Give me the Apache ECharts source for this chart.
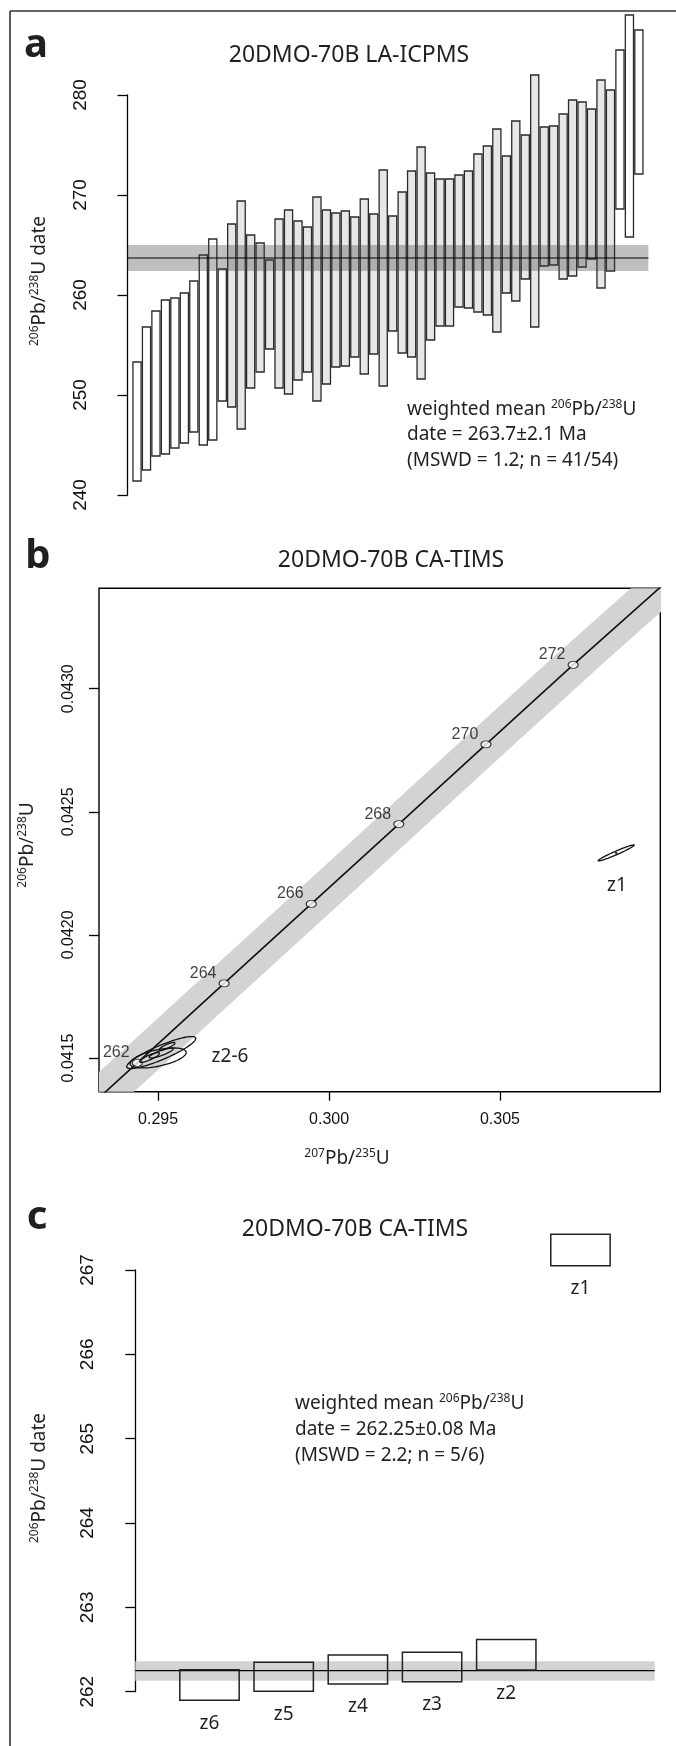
<!DOCTYPE html>
<html><head><meta charset="utf-8">
<script src="https://cdn.jsdelivr.net/npm/echarts@6/dist/echarts.min.js"></script>
<style>html,body{margin:0;padding:0;background:#fff}#c{width:676px;height:1746px}</style>
</head><body><div id="c"></div>
<script>
// ---------- Panel a: LA-ICPMS 206Pb/238U dates (2-sigma bars, sorted) ----------
const laLow = [241.4,242.5,243.9,244.1,244.7,245.2,246.3,245.0,245.5,249.4,
  248.8,246.6,250.7,252.3,254.6,250.7,250.1,251.5,252.3,249.4,
  251.1,252.8,252.9,253.8,252.1,254.1,250.9,256.4,254.2,253.8,
  251.6,255.5,256.9,256.9,258.8,258.7,258.3,258.0,256.3,260.2,
  259.4,261.6,256.8,262.9,263.0,261.6,261.9,262.8,263.6,260.7,
  262.4,268.6,265.8,272.1];
const laHigh = [253.3,256.8,258.4,259.5,259.7,260.2,261.4,264.0,265.6,262.6,
  267.1,269.4,266.0,265.2,263.5,267.6,268.5,267.4,266.8,269.8,
  268.5,268.2,268.4,267.8,269.6,268.1,272.5,267.9,270.3,272.4,
  274.8,272.2,271.6,271.6,272.0,272.4,274.1,274.9,276.6,273.9,
  277.4,276.0,282.0,276.8,276.9,278.1,279.5,279.3,278.6,281.5,
  280.5,284.5,288.0,286.5];
const laUsed = [0,0,0,0,0,0,0,0,0,0,
  1,1,1,1,1,1,1,1,1,1, 1,1,1,1,1,1,1,1,1,1, 1,1,1,1,1,1,1,1,1,1, 1,1,1,1,1,1,1,1,1,1,
  1,0,0,0];
const laMean = 263.7;
const laBand = [262.4, 265.0];
const laSpan = [0, 55];

// ---------- Panel b: concordia ----------
const concAge = [261, 262, 264, 266, 268, 270, 272, 274];
const concX = [0.29311, 0.29439, 0.29693, 0.29948, 0.30204, 0.30459, 0.30714, 0.30976];
const concY = [0.041318, 0.041480, 0.041803, 0.042126, 0.042450, 0.042774, 0.043097, 0.043421];
const concLabelAges = [262, 264, 266, 268, 270, 272];
const concBandHalfX = 0.00083;
const ellName = ['z1', 'z2', 'z3', 'z4', 'z5', 'z6'];
const ellX   = [0.30840, 0.29509, 0.29500, 0.29475, 0.29509, 0.29526];
const ellY   = [0.042333, 0.041522, 0.041500, 0.041502, 0.041520, 0.041547];
const ellSX  = [0.000526, 0.00101, 0.00082, 0.00029, 0.00035, 0.00023];
const ellSY  = [0.0000325, 0.000065, 0.0000406, 0.000020, 0.000020, 0.000016];
const ellRho = [0.97, 0.88, 0.55, 0.85, 0.85, 0.85];
const bXTicks = [0.295, 0.300, 0.305];
const bYTicks = [0.0415, 0.0420, 0.0425, 0.0430];

// ---------- Panel c: CA-TIMS dates ----------
const timsName = ['z6', 'z5', 'z4', 'z3', 'z2', 'z1'];
const timsLow  = [261.898, 262.005, 262.091, 262.119, 262.256, 267.050];
const timsHigh = [262.261, 262.349, 262.435, 262.467, 262.620, 267.423];
const timsMean = 262.25;
const timsBand = [262.13, 262.36];
const timsSpan = [0, 7];

// ---------------------------------------------------------------
const TXT = "'Noto Sans', 'Open Sans', sans-serif";
const NUM = "'Liberation Sans Narrow', 'Liberation Sans', Arial, sans-serif";
const NUMB = "'Liberation Sans', Arial, sans-serif";
const INK = '#231f20';

const chart = echarts.init(document.getElementById('c'), null, {renderer: 'canvas'});

const barData = laLow.map((v, i) => [i + 1, v, laHigh[i], laUsed[i]]);
const ellData = ellX.map((v, i) => [v, ellY[i], ellSX[i], ellSY[i], ellRho[i]]);
const concData = concX.map((v, i) => [v, concY[i]]);
const markerData = concLabelAges.map(a => { const k = concAge.indexOf(a); return [concX[k], concY[k], a]; });
const timsData = timsLow.map((v, i) => [i + 1, v, timsHigh[i]]);

function supText(x, y, str, opts) {
  return Object.assign({
    type: 'text', x: x, y: y,
    style: {
      text: str, fill: INK, font: '19px ' + TXT, fontSize: 19, fontFamily: TXT,
      align: 'left', verticalAlign: 'middle', textAlign: 'left', textVerticalAlign: 'middle',
      lineHeight: 22,
      rich: {
        n: {fontSize: 19, fontFamily: TXT, lineHeight: 22, fill: INK, color: INK},
        s: {fontSize: 12, fontFamily: TXT, lineHeight: 13, verticalAlign: 'top', fill: INK, color: INK}
      }
    }
  }, opts || {});
}
function plainText(x, y, str, size, opts, weight) {
  return Object.assign({
    type: 'text', x: x, y: y,
    style: {
      text: str, fill: INK, fontSize: size, fontFamily: TXT, fontWeight: weight || 'normal',
      align: 'center', verticalAlign: 'middle', textAlign: 'center', textVerticalAlign: 'middle'
    }
  }, opts || {});
}

const yAxisCommon = {
  type: 'value',
  axisLine: {show: true, lineStyle: {color: '#000', width: 1.3}},
  axisTick: {show: true, length: 10, lineStyle: {color: '#000', width: 1.3}},
  axisLabel: {rotate: 90, margin: 17, fontSize: 19, fontFamily: NUM, color: '#111'},
  splitLine: {show: false}
};

const option = {
  animation: false,
  backgroundColor: '#fff',
  grid: [
    {left: 107, top: 95, width: 560.3, height: 400},
    {left: 99, top: 588.3, width: 561.3, height: 503.4, show: true, borderColor: '#000', borderWidth: 1.4, backgroundColor: 'rgba(0,0,0,0)'},
    {left: 114.3, top: 1270, width: 555.2, height: 421.7}
  ],
  xAxis: [
    {gridIndex: 0, type: 'value', min: -2.17, max: 57, show: false},
    {gridIndex: 1, type: 'value', min: 0.29327, max: 0.30969,
      axisLine: {show: false}, splitLine: {show: false},
      axisTick: {show: true, length: 9, customValues: bXTicks, lineStyle: {color: '#000', width: 1.3}},
      axisLabel: {customValues: bXTicks, formatter: v => v.toFixed(3), margin: 20, fontSize: 16, fontFamily: NUMB, color: '#111'}},
    {gridIndex: 2, type: 'value', min: -0.283, max: 7.2, show: false}
  ],
  yAxis: [
    Object.assign({}, yAxisCommon, {gridIndex: 0, min: 240, max: 280, interval: 10}),
    {gridIndex: 1, type: 'value', min: 0.041363, max: 0.043408,
      axisLine: {show: false}, splitLine: {show: false},
      axisTick: {show: true, length: 10, customValues: bYTicks, lineStyle: {color: '#000', width: 1.3}},
      axisLabel: {customValues: bYTicks, formatter: v => v.toFixed(4), rotate: 90, margin: 22, fontSize: 16, fontFamily: NUMB, color: '#111'}},
    Object.assign({}, yAxisCommon, {gridIndex: 2, min: 262, max: 267, interval: 1})
  ],
  series: [
    // ---- panel a bars
    {type: 'custom', xAxisIndex: 0, yAxisIndex: 0, clip: false, z: 2, data: barData,
      renderItem: (params, api) => {
        const x = api.value(0), lo = api.value(1), hi = api.value(2), used = api.value(3);
        const p1 = api.coord([x - 0.43, hi]), p2 = api.coord([x + 0.43, lo]);
        return {type: 'rect', shape: {x: p1[0], y: p1[1], width: p2[0] - p1[0], height: p2[1] - p1[1]},
          style: {fill: used ? '#e6e7e8' : '#ffffff', stroke: '#2a2a2a', lineWidth: 1.3}};
      }},
    // ---- panel a band (over bars, translucent)
    {type: 'custom', xAxisIndex: 0, yAxisIndex: 0, clip: false, z: 3, data: [[laSpan[0], laSpan[1], laBand[0], laBand[1]]],
      renderItem: (params, api) => {
        const p1 = api.coord([api.value(0), api.value(3)]), p2 = api.coord([api.value(1), api.value(2)]);
        return {type: 'rect', shape: {x: p1[0], y: p1[1], width: p2[0] - p1[0], height: p2[1] - p1[1]},
          style: {fill: 'rgba(60,60,60,0.33)'}};
      }},
    {type: 'line', xAxisIndex: 0, yAxisIndex: 0, z: 4, symbol: 'none', silent: true,
      data: [[laSpan[0], laMean], [laSpan[1], laMean]], lineStyle: {color: '#000', width: 1.2}},

    // ---- panel b concordia band
    {type: 'custom', xAxisIndex: 1, yAxisIndex: 1, clip: true, z: 1, data: [[0]],
      renderItem: (params, api) => {
        const pts = [];
        for (let k = 0; k < concX.length; k++) pts.push(api.coord([concX[k] - concBandHalfX, concY[k]]));
        for (let k = concX.length - 1; k >= 0; k--) pts.push(api.coord([concX[k] + concBandHalfX, concY[k]]));
        return {type: 'polygon', shape: {points: pts}, style: {fill: '#d1d3d4'}};
      }},
    {type: 'line', xAxisIndex: 1, yAxisIndex: 1, z: 3, symbol: 'none', clip: true, silent: true,
      data: concData, lineStyle: {color: '#111', width: 1.6}},
    {type: 'scatter', xAxisIndex: 1, yAxisIndex: 1, z: 5, symbol: 'circle', symbolSize: [10, 7],
      data: markerData, itemStyle: {color: '#fff', borderColor: '#000', borderWidth: 1},
      label: {show: true, position: 'inside', offset: [-21, -10], formatter: p => String(p.value[2]),
        color: '#111', fontSize: 16, fontFamily: NUMB}},
    {type: 'custom', xAxisIndex: 1, yAxisIndex: 1, clip: true, z: 6, data: ellData,
      renderItem: (params, api) => {
        const cx = api.value(0), cy = api.value(1), sx = api.value(2), sy = api.value(3), r = api.value(4);
        const q = Math.sqrt(1 - r * r), pts = [];
        for (let k = 0; k <= 90; k++) {
          const t = 2 * Math.PI * k / 90;
          pts.push(api.coord([cx + sx * Math.cos(t), cy + sy * (r * Math.cos(t) + q * Math.sin(t))]));
        }
        return {type: 'polygon', shape: {points: pts}, style: {fill: 'none', stroke: '#111', lineWidth: 1.3}};
      }},
    {type: 'scatter', xAxisIndex: 1, yAxisIndex: 1, z: 7, symbol: 'circle', symbolSize: 2.5,
      data: [[ellX[0], ellY[0]]], itemStyle: {color: '#000'}},

    // ---- panel c
    {type: 'custom', xAxisIndex: 2, yAxisIndex: 2, clip: false, z: 1, data: [[timsSpan[0], timsSpan[1], timsBand[0], timsBand[1]]],
      renderItem: (params, api) => {
        const p1 = api.coord([api.value(0), api.value(3)]), p2 = api.coord([api.value(1), api.value(2)]);
        return {type: 'rect', shape: {x: p1[0], y: p1[1], width: p2[0] - p1[0], height: p2[1] - p1[1]},
          style: {fill: '#d1d3d4'}};
      }},
    {type: 'line', xAxisIndex: 2, yAxisIndex: 2, z: 2, symbol: 'none', silent: true,
      data: [[timsSpan[0], timsMean], [timsSpan[1], timsMean]], lineStyle: {color: '#000', width: 1.3}},
    {type: 'custom', xAxisIndex: 2, yAxisIndex: 2, clip: false, z: 3, data: timsData,
      renderItem: (params, api) => {
        const x = api.value(0), lo = api.value(1), hi = api.value(2);
        const p1 = api.coord([x - 0.4, hi]), p2 = api.coord([x + 0.4, lo]);
        return {type: 'group', children: [
          {type: 'rect', shape: {x: p1[0], y: p1[1], width: p2[0] - p1[0], height: p2[1] - p1[1]},
            style: {fill: 'none', stroke: '#222', lineWidth: 1.5}},
          {type: 'text', x: (p1[0] + p2[0]) / 2, y: p2[1] + 23,
            style: {text: timsName[params.dataIndex], fill: INK, fontSize: 19, fontFamily: TXT,
              align: 'center', verticalAlign: 'middle', textAlign: 'center', textVerticalAlign: 'middle'}}
        ]};
      }}
  ],
  graphic: [
    {type: 'line', shape: {x1: 10, y1: 11, x2: 676, y2: 11}, style: {stroke: '#333', lineWidth: 1.6}},
    {type: 'line', shape: {x1: 10, y1: 11, x2: 10, y2: 1746}, style: {stroke: '#333', lineWidth: 1.6}},
    // panel letters
    plainText(36, 46, 'a', 40, {}, 'bold'),
    plainText(38, 557, 'b', 40, {}, 'bold'),
    plainText(37, 1218, 'c', 40, {}, 'bold'),
    // titles
    plainText(349, 55, '20DMO-70B LA-ICPMS', 23),
    plainText(391, 560, '20DMO-70B CA-TIMS', 23),
    plainText(355, 1229, '20DMO-70B CA-TIMS', 23),
    // panel a annotation
    supText(407, 410, '{n|weighted mean }{s|206}{n|Pb/}{s|238}{n|U}'),
    supText(407, 435, '{n|date = 263.7\u00b12.1 Ma}'),
    supText(407, 461, '{n|(MSWD = 1.2; n = 41/54)}'),
    // panel c annotation
    supText(295, 1404, '{n|weighted mean }{s|206}{n|Pb/}{s|238}{n|U}'),
    supText(295, 1430, '{n|date = 262.25\u00b10.08 Ma}'),
    supText(295, 1456, '{n|(MSWD = 2.2; n = 5/6)}'),
    // axis titles
    supText(40, 281, '{s|206}{n|Pb/}{s|238}{n|U date}', {rotation: Math.PI / 2}),
    supText(28, 845, '{s|206}{n|Pb/}{s|238}{n|U}', {rotation: Math.PI / 2}),
    supText(347, 1159, '{s|207}{n|Pb/}{s|235}{n|U}'),
    supText(40, 1478, '{s|206}{n|Pb/}{s|238}{n|U date}', {rotation: Math.PI / 2}),
    // panel b labels
    plainText(617, 886, 'z1', 19),
    plainText(230, 1057, 'z2-6', 19)
  ]
};
// center rotated / x titles
option.graphic.forEach(g => {
  if (g.type === 'text' && g.style.rich && (g.rotation || g.y === 1159)) {
    g.style.align = 'center'; g.style.textAlign = 'center';
  }
});
chart.setOption(option);
</script></body></html>
